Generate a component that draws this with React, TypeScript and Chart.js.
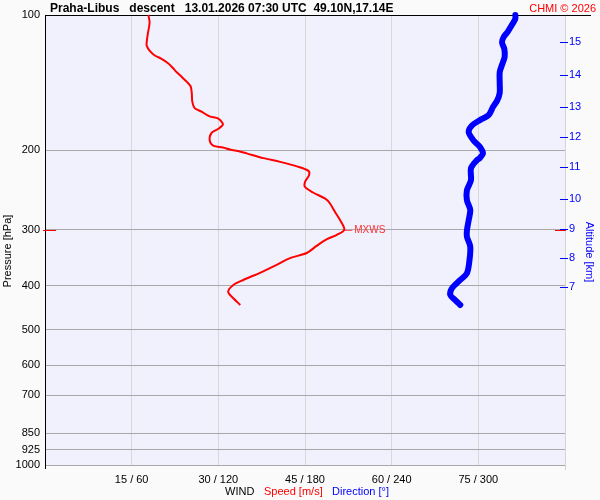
import React, { useEffect, useRef } from "react";
import { Chart, registerables } from "chart.js";

Chart.register(...registerables);

const FONT = '"Liberation Sans", Arial, sans-serif';

const pressureTicks = [100, 200, 300, 400, 500, 600, 700, 850, 925, 1000];
const speedTicks = [0, 15, 30, 45, 60, 75, 90];
const altitudeKm = [7, 8, 9, 10, 11, 12, 13, 14, 15];
const altitudePressure = [402, 347, 299, 256, 218, 187, 160, 136, 115];

const speedPressure = [100, 104, 110, 115, 117, 120, 123, 125, 128, 131, 134, 137, 141, 144, 149, 156, 161, 164, 168, 170, 175, 179, 183, 190, 195, 197, 199, 201, 203, 208, 212, 217, 222, 227, 235, 241, 248, 256, 262, 274, 286, 300, 308, 315, 326, 338, 347, 359, 374, 388, 398, 412, 426, 441];
const speedValues = [17.9, 18.1, 17.8, 17.6, 17.6, 18.1, 19.0, 20.1, 21.3, 22.1, 22.8, 23.6, 24.6, 25.2, 25.4, 25.5, 25.9, 27.1, 28.5, 30.0, 30.8, 30.0, 28.8, 28.5, 29.1, 30.8, 32.0, 33.7, 34.9, 37.8, 40.7, 43.6, 45.6, 45.7, 45.0, 45.0, 46.4, 48.5, 49.3, 50.2, 51.1, 51.8, 50.5, 48.8, 47.0, 45.3, 42.4, 40.1, 37.2, 34.3, 32.6, 31.7, 32.6, 33.8];

const dirPressure = [100, 102, 105, 109, 112, 115, 119, 124, 129, 134, 142, 149, 155, 160, 167, 171, 176, 182, 190, 196, 203, 208, 210, 219, 233, 245, 258, 271, 286, 301, 311, 327, 350, 375, 388, 405, 419, 430, 441];
const dirValues = [325.6, 325.6, 323.4, 320.3, 317.5, 316.4, 318.0, 318.2, 316.4, 314.8, 314.8, 314.8, 313.0, 310.2, 307.1, 301.4, 295.6, 293.3, 296.7, 300.9, 303.2, 300.9, 299.1, 294.9, 294.9, 292.1, 292.1, 294.4, 293.3, 292.1, 292.1, 294.4, 293.9, 292.1, 287.5, 281.7, 280.6, 284.0, 287.5];

const titleText = "Praha-Libus   descent   13.01.2026 07:30 UTC  49.10N,17.14E";

const decor = {
  id: "decor",
  beforeDraw(chart: any) {
    const { ctx, chartArea: a } = chart;
    ctx.save();
    ctx.fillStyle = "#fafafa";
    ctx.fillRect(0, 0, chart.width, chart.height);
    ctx.fillStyle = "#f1f1fd";
    ctx.fillRect(a.left, a.top, a.right - a.left, a.bottom - a.top);
    ctx.restore();
  },
  beforeDatasetsDraw(chart: any) {
    const { ctx, chartArea: a, scales } = chart;
    ctx.save();
    ctx.lineWidth = 1;
    // right edge (light gray)
    ctx.strokeStyle = "#d4d4d4";
    ctx.beginPath();
    ctx.moveTo(Math.round(a.right) + 0.5, a.top);
    ctx.lineTo(Math.round(a.right) + 0.5, a.bottom + 5);
    ctx.stroke();
    // top black line
    ctx.strokeStyle = "#000";
    ctx.beginPath();
    ctx.moveTo(a.left, Math.round(a.top) + 0.5);
    ctx.lineTo(591, Math.round(a.top) + 0.5);
    ctx.stroke();
    // left black axis
    ctx.beginPath();
    ctx.moveTo(Math.round(a.left) + 0.5, a.top);
    ctx.lineTo(Math.round(a.left) + 0.5, a.bottom + 4);
    ctx.stroke();
    // altitude ticks
    const y2 = scales.y2;
    ctx.strokeStyle = "#0000ff";
    altitudePressure.forEach((p) => {
      const py = Math.round(y2.getPixelForValue(p)) + 0.5;
      ctx.beginPath();
      ctx.moveTo(a.right - 5, py);
      ctx.lineTo(a.right + 3, py);
      ctx.stroke();
    });
    // max wind markers
    let mi = 0;
    speedValues.forEach((v, i) => {
      if (v > speedValues[mi]) mi = i;
    });
    const my = Math.round(scales.y.getPixelForValue(speedPressure[mi])) + 0.5;
    const mx = scales.x.getPixelForValue(speedValues[mi]);
    ctx.strokeStyle = "#ff0000";
    ctx.beginPath();
    ctx.moveTo(a.left - 2, my);
    ctx.lineTo(a.left + 11, my);
    ctx.moveTo(a.right - 10, my);
    ctx.lineTo(a.right + 1, my);
    ctx.stroke();
    ctx.strokeStyle = "#ff6060";
    ctx.beginPath();
    ctx.moveTo(mx, my);
    ctx.lineTo(mx + 8, my);
    ctx.stroke();
    ctx.fillStyle = "#ff3030";
    ctx.font = `10px ${FONT}`;
    ctx.textBaseline = "middle";
    ctx.textAlign = "left";
    ctx.fillText("MXWS", mx + 10, my);
    ctx.restore();
  },
  afterDraw(chart: any) {
    const { ctx } = chart;
    ctx.save();
    ctx.textBaseline = "alphabetic";
    ctx.textAlign = "left";
    ctx.fillStyle = "#000";
    ctx.font = `bold 12px ${FONT}`;
    ctx.fillText(titleText, 50, 12);
    ctx.textAlign = "right";
    ctx.fillStyle = "#ff0000";
    ctx.font = `11px ${FONT}`;
    ctx.fillText("CHMI \u00a9 2026", 596, 12);
    // bottom legend
    ctx.textAlign = "left";
    ctx.font = `11px ${FONT}`;
    ctx.fillStyle = "#000";
    ctx.fillText("WIND", 225, 495);
    ctx.fillStyle = "#ff0000";
    ctx.fillText("Speed [m/s]", 264, 495);
    ctx.fillStyle = "#0000ff";
    ctx.fillText("Direction [\u00b0]", 332, 495);
    // axis titles
    ctx.textAlign = "center";
    ctx.textBaseline = "middle";
    ctx.save();
    ctx.translate(8, 251);
    ctx.rotate(-Math.PI / 2);
    ctx.fillStyle = "#000";
    ctx.fillText("Pressure [hPa]", 0, 0);
    ctx.restore();
    ctx.save();
    ctx.translate(589, 252);
    ctx.rotate(Math.PI / 2);
    ctx.fillStyle = "#0000ff";
    ctx.fillText("Altitude [km]", 0, 0);
    ctx.restore();
    ctx.restore();
  },
};

export default function App() {
  const ref = useRef<HTMLCanvasElement | null>(null);
  useEffect(() => {
    document.body.style.margin = "0";
    Chart.defaults.font.family = FONT;
    const chart = new Chart(ref.current as HTMLCanvasElement, {
      type: "scatter",
      data: {
        datasets: [
          {
            label: "Speed",
            data: speedPressure.map((p, i) => ({ x: speedValues[i], y: p })),
            borderColor: "#ff0000",
            backgroundColor: "#ff0000",
            borderWidth: 2,
            pointRadius: 0,
            showLine: true,
            tension: 0.3,
            clip: false,
            xAxisID: "x",
            yAxisID: "y",
          },
          {
            label: "Direction",
            data: dirPressure.map((p, i) => ({ x: dirValues[i], y: p })),
            borderColor: "#0000ff",
            backgroundColor: "#0000ff",
            borderWidth: 6,
            borderCapStyle: "round",
            borderJoinStyle: "round",
            pointRadius: 0,
            showLine: true,
            tension: 0.3,
            clip: false,
            xAxisID: "x2",
            yAxisID: "y",
          },
        ],
      } as any,
      options: {
        animation: false,
        responsive: false,
        layout: { padding: { top: 15, left: 0, right: 0, bottom: 0 } },
        plugins: {
          legend: { display: false },
          tooltip: { enabled: false },
          title: { display: false },
        },
        scales: {
          x: {
            type: "linear",
            position: "bottom",
            min: 0,
            max: 90,
            afterBuildTicks: (s: any) => {
              s.ticks = speedTicks.map((v) => ({ value: v }));
            },
            afterFit: (s: any) => {
              s.height = 35;
            },
            grid: { color: "#d8d8d8", drawTicks: false },
            border: { display: false },
            ticks: {
              autoSkip: false,
              maxRotation: 0,
              padding: 8,
              color: "#000",
              font: { size: 11 },
              callback: (v: any) => (v === 0 || v === 90 ? "" : `${v} / ${v * 4}`),
            },
          },
          x2: {
            type: "linear",
            min: 0,
            max: 360,
            display: false,
          },
          y: {
            type: "logarithmic",
            position: "left",
            reverse: true,
            min: 100,
            max: 1000,
            afterBuildTicks: (s: any) => {
              s.ticks = pressureTicks.map((v) => ({ value: v }));
            },
            afterFit: (s: any) => {
              s.width = 45;
            },
            grid: { color: "#a8a8a8", drawTicks: false },
            border: { display: false },
            ticks: {
              autoSkip: false,
              padding: 5,
              color: "#000",
              font: { size: 11 },
              callback: (v: any) => String(v),
            },
          },
          y2: {
            type: "logarithmic",
            position: "right",
            reverse: true,
            min: 100,
            max: 1000,
            afterBuildTicks: (s: any) => {
              s.ticks = altitudePressure.map((v) => ({ value: v }));
            },
            afterFit: (s: any) => {
              s.width = 35;
            },
            grid: { display: false, drawOnChartArea: false, drawTicks: false },
            border: { display: false },
            ticks: {
              autoSkip: false,
              padding: 4,
              color: "#0000ff",
              font: { size: 11 },
              callback: (v: any) => {
                const i = altitudePressure.indexOf(v);
                return i >= 0 ? String(altitudeKm[i]) : "";
              },
            },
          },
        },
      } as any,
      plugins: [decor],
    });
    return () => chart.destroy();
  }, []);
  return (
    <div style={{ position: "fixed", left: 0, top: 0, width: 600, height: 500, background: "#fafafa" }}>
      <canvas ref={ref} width={600} height={500} style={{ display: "block" }} />
    </div>
  );
}
